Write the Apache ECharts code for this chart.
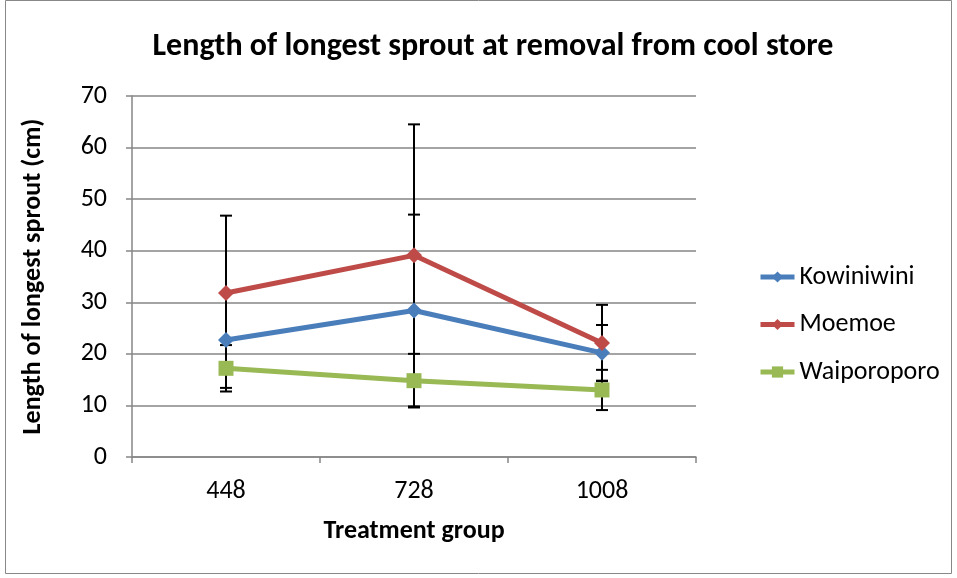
<!DOCTYPE html>
<html>
<head>
<meta charset="utf-8">
<script src="https://cdn.jsdelivr.net/npm/echarts@6/dist/echarts.min.js"></script>
<style>
  html, body { margin: 0; padding: 0; background: #fff; }
  #main { width: 957px; height: 578px; }
</style>
</head>
<body>
<div id="main"></div>
<script>
// treatment groups
const groups = ['448', '728', '1008'];
// mean sprout length (cm)
const kowiniwini = [22.7, 28.4, 20.2];
const moemoe = [31.8, 39.1, 22.1];
const waiporoporo = [17.2, 14.8, 13.0];
// error bar half-lengths
const kowiniwiniErr = [9.3, 18.6, 5.4];
const moemoeErr = [15.0, 25.4, 7.4];
const waiporoporoErr = [4.5, 5.2, 3.9];

const font = 'Carlito, Lato, "Open Sans", sans-serif';

function errData(vals, errs) {
  return vals.map((v, i) => [i, v, errs[i]]);
}

function errorBar(params, api) {
  const i = api.value(0);
  const v = api.value(1);
  const e = api.value(2);
  const top = api.coord([i, v + e]);
  const bot = api.coord([i, v - e]);
  const x = top[0];
  const style = { stroke: '#000', lineWidth: 2 };
  return {
    type: 'group',
    children: [
      { type: 'line', shape: { x1: x, y1: top[1], x2: x, y2: bot[1] }, style: style },
      { type: 'line', shape: { x1: x - 6, y1: top[1], x2: x + 6, y2: top[1] }, style: style },
      { type: 'line', shape: { x1: x - 6, y1: bot[1], x2: x + 6, y2: bot[1] }, style: style }
    ]
  };
}

function lineSeries(name, data, color, symbol, size) {
  return {
    name: name,
    type: 'line',
    data: data,
    symbol: symbol,
    symbolSize: size,
    z: 5,
    lineStyle: { color: color, width: 5 },
    itemStyle: { color: color },
    emphasis: { disabled: true }
  };
}

function barSeries(vals, errs) {
  return {
    type: 'custom',
    renderItem: errorBar,
    data: errData(vals, errs),
    z: 3,
    silent: true
  };
}

const chart = echarts.init(document.getElementById('main'));
chart.setOption({
  backgroundColor: '#fff',
  animation: false,
  title: {
    text: 'Length of longest sprout at removal from cool store',
    left: 488,
    textAlign: 'center',
    top: 26,
    textStyle: { fontFamily: font, fontSize: 32, fontWeight: 'bold', color: '#000' }
  },
  graphic: [{
    type: 'rect',
    shape: { x: 5.5, y: 0.5, width: 946, height: 573 },
    style: { fill: 'none', stroke: '#888', lineWidth: 1 }
  }],
  legend: {
    orient: 'vertical',
    left: 758,
    top: 264,
    padding: 0,
    itemGap: 21.5,
    itemWidth: 34,
    itemHeight: 14,
    lineStyle: { width: 5 },
    textStyle: { fontFamily: font, fontSize: 26, color: '#000' },
    data: ['Kowiniwini', 'Moemoe', 'Waiporoporo']
  },
  grid: { left: 132, top: 96, width: 564, height: 361 },
  xAxis: {
    type: 'category',
    data: groups,
    name: 'Treatment group',
    nameLocation: 'middle',
    nameGap: 61,
    nameTextStyle: { fontFamily: font, fontSize: 26, fontWeight: 'bold', color: '#000' },
    axisLine: { lineStyle: { color: '#868686', width: 1.5 } },
    axisTick: { show: true, length: 6, lineStyle: { color: '#868686', width: 1.5 } },
    axisLabel: { fontFamily: font, fontSize: 26, color: '#000', margin: 21 }
  },
  yAxis: {
    type: 'value',
    min: 0,
    max: 70,
    interval: 10,
    name: 'Length of longest sprout (cm)',
    nameLocation: 'middle',
    nameGap: 86,
    nameTextStyle: { fontFamily: font, fontSize: 26, fontWeight: 'bold', color: '#000' },
    axisLine: { show: true, lineStyle: { color: '#868686', width: 1.5 } },
    axisTick: { show: true, length: 6, lineStyle: { color: '#868686', width: 1.5 } },
    axisLabel: { fontFamily: font, fontSize: 26, color: '#000', margin: 25 },
    splitLine: { lineStyle: { color: '#868686', width: 1.5 } }
  },
  series: [
    barSeries(kowiniwini, kowiniwiniErr),
    barSeries(moemoe, moemoeErr),
    barSeries(waiporoporo, waiporoporoErr),
    lineSeries('Kowiniwini', kowiniwini, '#4A7EBB', 'diamond', 16),
    lineSeries('Moemoe', moemoe, '#BE4B48', 'diamond', 16),
    lineSeries('Waiporoporo', waiporoporo, '#98B954', 'rect', 15)
  ]
});
</script>
</body>
</html>
